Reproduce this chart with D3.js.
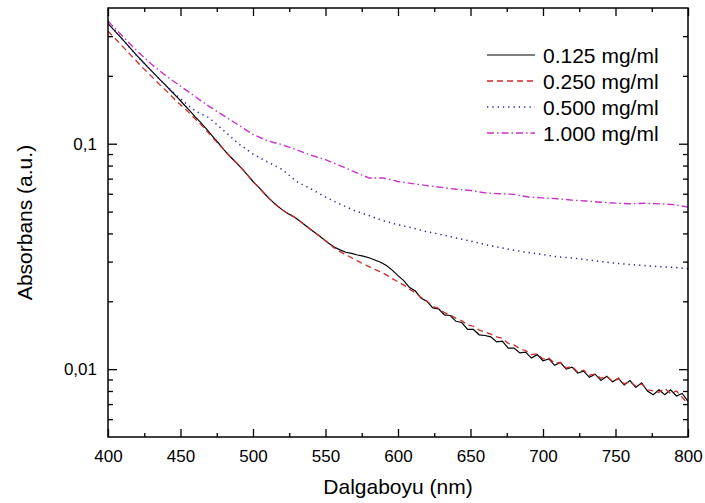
<!DOCTYPE html>
<html>
<head>
<meta charset="utf-8">
<script src="https://cdn.jsdelivr.net/npm/d3@7"></script>
<style>
  body{margin:0;background:#fff;}
  svg text{font-family:"Liberation Sans",Arial,sans-serif;fill:#000;}
  .tick line{stroke:#000;stroke-width:1.3;}
</style>
</head>
<body>
<svg id="chart" width="705" height="503"></svg>
<script>
// wavelength grids (nm)
const wlFine = d3.range(400, 801, 4)
const wlCoarse = d3.range(400, 801, 10)

// 0.125 mg/ml, every 4 nm
const abs0125 = [
  0.341,0.320,0.300,0.281,0.263,0.246,0.231,0.217,0.204,0.192,
  0.181,0.170,0.160,0.150,0.141,0.132,0.124,0.116,0.108,0.101,
  0.094,0.088,0.083,0.078,0.073,0.068,0.064,0.060,0.0565,0.0535,
  0.051,0.049,0.0475,0.0455,0.0435,0.0415,0.0398,0.038,0.0363,0.0348,
  0.0338,0.0330,0.0326,0.0321,0.0317,0.0312,0.0305,0.0298,0.0288,0.0275,
  0.0260,0.0247,0.0230,0.0222,0.0206,0.0200,0.0187,0.0185,0.0174,0.0173,
  0.0163,0.0161,0.0150,0.0150,0.0142,0.0141,0.0139,0.0132,0.0133,0.0124,
  0.0124,0.0118,0.0119,0.0112,0.0116,0.0109,0.0111,0.0104,0.0107,0.0100,
  0.0102,0.0096,0.0098,0.0092,0.0095,0.0089,0.0093,0.0088,0.0091,0.0085,
  0.0089,0.0083,0.0087,0.0080,0.0077,0.0081,0.0077,0.0081,0.0076,0.0078,
  0.0072
]
// 0.250 mg/ml, every 4 nm
const abs0250 = [
  0.316,0.297,0.279,0.262,0.246,0.231,0.217,0.205,0.193,0.182,
  0.172,0.162,0.153,0.145,0.137,0.129,0.122,0.114,0.107,0.100,
  0.094,0.088,0.083,0.078,0.073,0.068,0.064,0.060,0.0565,0.0535,
  0.051,0.049,0.0475,0.0455,0.0435,0.0415,0.0398,0.038,0.0362,0.0345,
  0.0332,0.0322,0.0312,0.0302,0.0293,0.0285,0.0277,0.0270,0.0262,0.0252,
  0.0244,0.0236,0.0226,0.0218,0.0208,0.0200,0.0190,0.0186,0.0178,0.0174,
  0.0168,0.0164,0.0157,0.0155,0.0149,0.0146,0.0143,0.0139,0.0137,0.0130,
  0.0128,0.0123,0.0121,0.0116,0.0117,0.0111,0.0112,0.0106,0.0107,0.0101,
  0.0103,0.0097,0.0099,0.0094,0.0095,0.0091,0.0093,0.0088,0.0091,0.0086,
  0.0088,0.0084,0.0086,0.0081,0.0080,0.0079,0.0082,0.0078,0.0080,0.0075,
  0.0070
]
// 0.500 mg/ml, every 10 nm
const abs0500 = [
  0.345,0.290,0.245,0.210,0.181,0.158,0.140,0.130,0.114,0.100,
  0.090,0.083,0.077,0.068,0.063,0.058,0.054,0.0505,0.048,0.0455,
  0.0437,0.0423,0.0407,0.0395,0.0382,0.0370,0.0357,0.0347,0.0337,0.0329,
  0.0322,0.0315,0.0311,0.0306,0.0300,0.0295,0.0291,0.0288,0.0285,0.0283,
  0.0279
]
// 1.000 mg/ml, every 10 nm
const abs1000 = [
  0.350,0.300,0.258,0.225,0.200,0.180,0.162,0.146,0.133,0.121,
  0.110,0.103,0.099,0.094,0.089,0.085,0.080,0.075,0.0705,0.0705,
  0.0680,0.0665,0.0652,0.0640,0.0628,0.0620,0.0605,0.0600,0.0596,0.0580,
  0.0575,0.0570,0.0562,0.0557,0.0550,0.0545,0.0542,0.0544,0.0541,0.0537,
  0.0523
]

const seriesNames = ["0.125 mg/ml","0.250 mg/ml","0.500 mg/ml","1.000 mg/ml"]
const xMajor = [400,450,500,550,600,650,700,750,800]
const xMinor = [425,475,525,575,625,675,725,775]
const yMajor = [0.01,0.1]
const yMinor = [0.006,0.007,0.008,0.009,0.02,0.03,0.04,0.05,0.06,0.07,0.08,0.09,0.2,0.3]

let svg = d3.select("#chart")
let mLeft=108, mRight=688, mTop=8, mBottom=437

let xScale = d3.scaleLinear().domain([400,800]).range([mLeft,mRight])
let yScale = d3.scaleLog().domain([0.005,0.4]).range([mBottom,mTop])

// axes, all ticks pointing inward
function addAxis(axisFn, scale, vals, size, pos, fmt, pad){
    let a = axisFn(scale).tickValues(vals).tickSize(-size).tickPadding(pad||0)
        .tickFormat(fmt||"")
    let g = svg.append("g").attr("transform", pos).call(a)
    g.select(".domain").remove()
    return g
}
let xb = addAxis(d3.axisBottom, xScale, xMajor, 8, `translate(0,${mBottom})`, d3.format("d"), 13)
xb.selectAll("text").style("font-size","17px")
addAxis(d3.axisBottom, xScale, xMinor, 4, `translate(0,${mBottom})`)
addAxis(d3.axisTop, xScale, xMajor, 8, `translate(0,${mTop})`)
addAxis(d3.axisTop, xScale, xMinor, 4, `translate(0,${mTop})`)

let yl = addAxis(d3.axisLeft, yScale, yMajor, 9, `translate(${mLeft},0)`,
    d => d===0.1 ? "0,1" : "0,01", 11)
yl.selectAll("text").style("font-size","17px")
addAxis(d3.axisLeft, yScale, yMinor, 5, `translate(${mLeft},0)`)
addAxis(d3.axisRight, yScale, yMajor, 9, `translate(${mRight},0)`)
addAxis(d3.axisRight, yScale, yMinor, 5, `translate(${mRight},0)`)

// curves
let line = d3.line().x(d=>xScale(d[0])).y(d=>yScale(d[1]))
let series = [
    {name:seriesNames[0], pts:d3.zip(wlFine,abs0125),   color:"#000000", dash:null,        w:1.2},
    {name:seriesNames[1], pts:d3.zip(wlFine,abs0250),   color:"#cc2a2a", dash:"6,4",       w:1.3},
    {name:seriesNames[2], pts:d3.zip(wlCoarse,abs0500), color:"#2a2a85", dash:"1.3,4",     w:1.5},
    {name:seriesNames[3], pts:d3.zip(wlCoarse,abs1000), color:"#c832c8", dash:"7,3,1.5,3", w:1.4}
]
let plot = svg.append("g")
plot.selectAll("path.curve").data(series).enter().append("path")
    .attr("class","curve")
    .attr("d", d=>line(d.pts))
    .attr("fill","none")
    .attr("stroke", d=>d.color)
    .attr("stroke-width", d=>d.w)
    .attr("stroke-dasharray", d=>d.dash)

// frame
svg.append("rect").attr("x",mLeft).attr("y",mTop)
    .attr("width",mRight-mLeft).attr("height",mBottom-mTop)
    .attr("fill","none").attr("stroke","#000").attr("stroke-width",1.5)

// legend
let leg = svg.selectAll(".leg").data(series).enter().append("g")
    .attr("class","leg")
    .attr("transform",(d,i)=>`translate(487,${55+i*26})`)
leg.append("line").attr("x1",0).attr("x2",48).attr("y1",0).attr("y2",0)
    .attr("stroke",d=>d.color).attr("stroke-width",d=>d.w)
    .attr("stroke-dasharray",d=>d.dash)
leg.append("text").attr("x",56).attr("dy","0.36em")
    .style("font-size","21px").text(d=>d.name)

// axis titles
svg.append("text").attr("x",(mLeft+mRight)/2).attr("y",494)
    .attr("text-anchor","middle").style("font-size","21px")
    .text("Dalgaboyu (nm)")
svg.append("text")
    .attr("transform",`translate(32,${(mTop+mBottom)/2}) rotate(-90)`)
    .attr("text-anchor","middle").style("font-size","21px")
    .text("Absorbans (a.u.)")
</script>
</body>
</html>
